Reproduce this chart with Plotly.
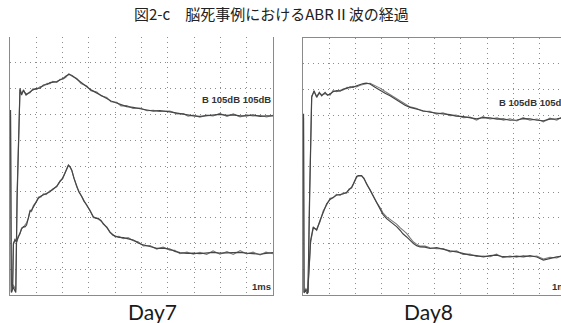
import plotly.graph_objects as go

# ---- data (x: ms, 1 division = 1 ms; y: amplitude in grid divisions) ----
# Day7 upper waveform
d7_top_x = [0.02, 0.05, 0.12, 0.22, 0.27, 0.38, 0.44, 0.51, 0.61, 0.76, 0.87, 1.02, 1.14, 1.27, 1.41,
            1.52, 1.63, 1.78, 1.90, 2.03, 2.13, 2.24, 2.36, 2.54, 2.70, 2.92, 3.08, 3.30, 3.46, 3.68,
            3.84, 4.06, 4.22, 4.44, 4.68, 4.94, 5.21, 5.45, 5.70, 6.08, 6.35, 6.59, 6.77, 6.97, 7.22,
            7.48, 7.72, 7.98, 8.25, 8.49, 8.75, 9.00, 9.24, 9.51, 9.76, 10.0]
d7_top_a = [7.17, 0.10, 0.30, 0.10, 3.70, 8.01, 7.75, 7.95, 7.75, 7.88, 7.95, 8.01, 8.02, 8.14, 8.16,
            8.23, 8.24, 8.27, 8.33, 8.40, 8.49, 8.55, 8.51, 8.36, 8.24, 8.07, 7.95, 7.84, 7.75, 7.62,
            7.52, 7.43, 7.36, 7.30, 7.27, 7.21, 7.17, 7.13, 7.15, 7.10, 7.05, 7.00, 6.96, 6.94, 6.92,
            6.94, 6.98, 7.00, 6.96, 6.98, 6.94, 6.94, 6.98, 6.92, 6.94, 6.94]
d7_top_b = [7.00, 0.15, 0.40, 0.20, 4.00, 7.95, 7.80, 7.90, 7.80, 7.84, 7.99, 7.97, 8.07, 8.10, 8.20,
            8.19, 8.28, 8.24, 8.36, 8.37, 8.45, 8.58, 8.48, 8.39, 8.20, 8.10, 7.92, 7.87, 7.72, 7.66,
            7.49, 7.47, 7.33, 7.34, 7.23, 7.25, 7.14, 7.16, 7.11, 7.13, 7.02, 7.03, 6.93, 6.97, 6.89,
            6.97, 6.94, 7.04, 6.92, 7.02, 6.90, 6.98, 6.94, 6.96, 6.90, 6.97]

# Day7 lower waveform
d7_bot_x = [0.06, 0.10, 0.13, 0.19, 0.25, 0.30, 0.38, 0.44, 0.51, 0.57, 0.63, 0.70, 0.76, 0.82, 0.89,
            0.99, 1.08, 1.18, 1.27, 1.37, 1.52, 1.63, 1.78, 1.84, 1.90, 2.00, 2.09, 2.17, 2.22, 2.28,
            2.35, 2.43, 2.54, 2.62, 2.73, 2.81, 2.92, 3.04, 3.17, 3.27, 3.36, 3.46, 3.55, 3.69, 3.80,
            3.90, 3.99, 4.14, 4.31, 4.49, 4.69, 4.87, 5.07, 5.32, 5.58, 5.82, 6.08, 6.27, 6.46, 6.73,
            6.97, 7.22, 7.48, 7.72, 7.98, 8.25, 8.49, 8.75, 9.00, 9.24, 9.51, 9.73, 10.0]
d7_bot_a = [0.10, 0.30, 2.00, 2.13, 2.07, 2.21, 2.40, 2.56, 2.65, 2.64, 2.71, 3.06, 3.23, 3.29, 3.42,
            3.64, 3.75, 3.84, 3.88, 3.93, 4.00, 4.11, 4.20, 4.32, 4.39, 4.53, 4.72, 4.92, 5.04, 4.98,
            4.84, 4.53, 4.20, 3.99, 3.81, 3.64, 3.49, 3.26, 3.03, 2.97, 2.97, 2.87, 2.78, 2.60, 2.45,
            2.33, 2.29, 2.23, 2.22, 2.19, 2.13, 2.02, 1.94, 1.88, 1.81, 1.82, 1.78, 1.69, 1.64, 1.61,
            1.62, 1.60, 1.62, 1.65, 1.62, 1.63, 1.62, 1.65, 1.62, 1.60, 1.58, 1.61, 1.64]
d7_bot_b = [0.20, 0.40, 1.95, 2.18, 2.03, 2.26, 2.36, 2.60, 2.62, 2.70, 2.80, 2.98, 3.30, 3.24, 3.47,
            3.60, 3.80, 3.80, 3.92, 3.89, 4.04, 4.08, 4.24, 4.29, 4.42, 4.50, 4.74, 4.90, 5.02, 4.96,
            4.82, 4.55, 4.18, 4.02, 3.78, 3.67, 3.46, 3.29, 3.00, 3.00, 2.93, 2.90, 2.74, 2.63, 2.42,
            2.36, 2.26, 2.27, 2.18, 2.23, 2.10, 2.06, 1.90, 1.92, 1.78, 1.86, 1.74, 1.73, 1.60, 1.66,
            1.58, 1.65, 1.57, 1.71, 1.58, 1.68, 1.57, 1.72, 1.59, 1.66, 1.55, 1.66, 1.60]

# Day8 upper waveform
d8_top_x = [0.02, 0.04, 0.11, 0.19, 0.25, 0.33, 0.42, 0.52, 0.62, 0.71, 0.84, 0.93, 1.03, 1.14, 1.28,
            1.41, 1.53, 1.67, 1.79, 1.90, 2.04, 2.17, 2.29, 2.41, 2.55, 2.74, 2.93, 3.12, 3.31, 3.50,
            3.69, 3.88, 4.07, 4.30, 4.57, 4.83, 5.08, 5.32, 5.59, 5.82, 6.10, 6.35, 6.60, 6.84, 7.11,
            7.38, 7.62, 7.87, 8.13, 8.37, 8.63, 8.90, 9.14, 9.39, 9.65, 9.84]
d8_top_a = [7.05, 0.08, 0.19, 0.08, 3.68, 7.69, 7.95, 7.69, 7.88, 7.75, 7.88, 7.77, 7.82, 7.91, 7.95,
            7.93, 8.01, 8.04, 8.10, 8.08, 8.14, 8.20, 8.23, 8.24, 8.21, 8.08, 7.95, 7.85, 7.75, 7.62,
            7.49, 7.38, 7.30, 7.23, 7.17, 7.11, 7.07, 7.05, 7.02, 6.96, 6.94, 6.88, 6.85, 6.90, 6.89,
            6.84, 6.85, 6.80, 6.81, 6.86, 6.85, 6.80, 6.78, 6.84, 6.85, 6.89]
d8_top_b = [6.90, 0.12, 0.25, 0.12, 3.90, 7.75, 7.90, 7.74, 7.84, 7.80, 7.83, 7.81, 7.78, 7.95, 7.91,
            7.97, 7.98, 8.08, 8.06, 8.12, 8.10, 8.16, 8.20, 8.22, 8.24, 8.16, 8.05, 7.92, 7.80, 7.68,
            7.55, 7.42, 7.32, 7.27, 7.14, 7.15, 7.04, 7.09, 6.98, 7.00, 6.90, 6.92, 6.80, 6.94, 6.85,
            6.89, 6.80, 6.86, 6.77, 6.90, 6.80, 6.85, 6.74, 6.88, 6.80, 6.92]

# Day8 lower waveform
d8_bot_x = [0.12, 0.17, 0.20, 0.29, 0.39, 0.52, 0.65, 0.77, 0.90, 1.03, 1.15, 1.27, 1.41, 1.52, 1.66,
            1.75, 1.85, 1.92, 1.98, 2.04, 2.10, 2.23, 2.32, 2.42, 2.55, 2.67, 2.79, 2.93, 3.04, 3.18,
            3.31, 3.43, 3.56, 3.69, 3.80, 3.94, 4.07, 4.20, 4.32, 4.45, 4.64, 4.83, 5.08, 5.33, 5.59,
            5.84, 6.08, 6.35, 6.60, 6.86, 7.11, 7.36, 7.60, 7.87, 8.12, 8.38, 8.63, 8.89, 9.14, 9.39,
            9.65, 9.84]
d8_bot_a = [0.10, 0.05, 0.45, 2.13, 2.65, 2.52, 2.91, 3.23, 3.55, 3.72, 3.81, 3.88, 3.91, 3.93, 4.00,
            4.09, 4.20, 4.34, 4.46, 4.61, 4.65, 4.65, 4.52, 4.33, 4.07, 3.81, 3.59, 3.36, 3.14, 2.97,
            2.87, 2.75, 2.66, 2.52, 2.38, 2.26, 2.11, 2.00, 1.92, 1.87, 1.86, 1.81, 1.84, 1.77, 1.72,
            1.68, 1.61, 1.55, 1.53, 1.48, 1.53, 1.55, 1.49, 1.48, 1.51, 1.48, 1.53, 1.48, 1.36, 1.43,
            1.48, 1.51]
d8_bot_b = [0.15, 0.10, 0.50, 2.05, 2.60, 2.56, 2.86, 3.28, 3.50, 3.76, 3.78, 3.92, 3.88, 3.97, 3.96,
            4.13, 4.16, 4.30, 4.42, 4.58, 4.62, 4.62, 4.55, 4.30, 4.10, 3.84, 3.62, 3.40, 3.20, 3.04,
            2.95, 2.84, 2.76, 2.62, 2.52, 2.40, 2.22, 2.06, 1.98, 1.90, 1.90, 1.84, 1.80, 1.81, 1.68,
            1.72, 1.58, 1.59, 1.50, 1.52, 1.49, 1.59, 1.45, 1.52, 1.47, 1.53, 1.49, 1.52, 1.40, 1.47,
            1.44, 1.54]

label_text = "B 105dB 105dB"
scale_text = "1ms"
title_text = "図2-c　脳死事例におけるABRⅡ波の経過"
panel_names = ["Day7", "Day8"]

# ---- figure ----
W, H = 561, 323
fig = go.Figure()

dark = "#454545"
light = "#7a7a7a"

panels = [
    ("x", "y", d7_top_x, d7_top_a, d7_top_b, d7_bot_x, d7_bot_a, d7_bot_b),
    ("x2", "y2", d8_top_x, d8_top_a, d8_top_b, d8_bot_x, d8_bot_a, d8_bot_b),
]
for xa, ya, tx, ta, tb, bx, ba, bb in panels:
    for xs, ys, c, w in [(tx, tb, light, 1.1), (tx, ta, dark, 1.2),
                         (bx, bb, light, 1.1), (bx, ba, dark, 1.2)]:
        fig.add_trace(go.Scatter(x=xs, y=ys, mode="lines", xaxis=xa, yaxis=ya,
                                 line=dict(color=c, width=w), showlegend=False,
                                 hoverinfo="skip"))

grid = dict(showgrid=True, gridcolor="#8c8c8c", griddash="1px,4px", gridwidth=1,
            zeroline=False, showticklabels=False, ticks="", tickvals=list(range(1, 10)))
border = "#8a8a8a"

x_left = [10 / W, 273 / W]
x_right = [303 / W, 1.0]
y_dom1 = [1 - 295 / H, 1 - 37 / H]
y_dom2 = [1 - 295 / H, 1 - 38 / H]

fig.update_layout(
    width=W, height=H, margin=dict(l=0, r=0, t=0, b=0),
    paper_bgcolor="white", plot_bgcolor="white",
    xaxis=dict(domain=x_left, range=[0, 10], showline=True, linecolor=border, linewidth=1.2,
               mirror=False, **grid),
    yaxis=dict(domain=y_dom1, range=[0, 10], showline=True, linecolor=border, linewidth=1.2,
               mirror=True, **grid),
    xaxis2=dict(domain=x_right, range=[0, (561 - 303) / 26.3], anchor="y2", showline=True,
                linecolor=border, linewidth=1.2, mirror=True, **grid),
    yaxis2=dict(domain=y_dom2, range=[0, 10], anchor="x2", showline=True, linecolor=border,
                linewidth=1.2, mirror=False, **grid),
)

lab_font = dict(family="Liberation Sans", size=9.5, color="#333333")
fig.add_annotation(x=10, y=7.58, xref="x", yref="y", text="<b>" + label_text + "</b>",
                   showarrow=False, xanchor="right", yanchor="middle", font=lab_font)
fig.add_annotation(x=7.37, y=7.49, xref="x2", yref="y2", text="<b>" + label_text + "</b>",
                   showarrow=False, xanchor="left", yanchor="middle", font=lab_font)
fig.add_annotation(x=10, y=0.05, xref="x", yref="y", text="<b>" + scale_text + "</b>",
                   showarrow=False, xanchor="right", yanchor="bottom", font=lab_font)
fig.add_annotation(x=9.39, y=0.05, xref="x2", yref="y2", text="<b>" + scale_text + "</b>",
                   showarrow=False, xanchor="left", yanchor="bottom", font=lab_font)

fig.add_annotation(x=271.5 / W, y=1 - 13 / H, xref="paper", yref="paper", text=title_text,
                   showarrow=False, xanchor="center", yanchor="middle",
                   font=dict(family="Noto Sans CJK JP", size=15, color="#222222"))
for name, cx in zip(panel_names, [152 / W, 428 / W]):
    fig.add_annotation(x=cx, y=1 - 311 / H, xref="paper", yref="paper", text=name,
                       showarrow=False, xanchor="center", yanchor="middle",
                       font=dict(family="Lato", size=21, color="#1a1a1a"))

fig.write_html("out.html")
